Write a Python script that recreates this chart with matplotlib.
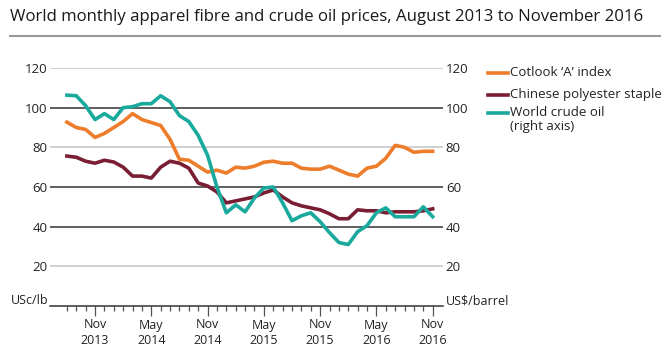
#Imports
import matplotlib
matplotlib.use('Agg')
import matplotlib.pyplot as plt
from matplotlib.ticker import FixedLocator

# Months from Aug 2013 (0) to Nov 2016 (39)
months = list(range(40))
tick_pos = [3, 9, 15, 21, 27, 33, 39]
tick_labels = ['Nov\n2013', 'May\n2014', 'Nov\n2014', 'May\n2015', 'Nov\n2015', 'May\n2016', 'Nov\n2016']

# Cotlook 'A' index, US cents per lb
cotlook = [92.7, 90, 89, 85, 87, 90, 93, 97, 94, 92.5,
           91, 84, 74, 73.5, 70.5, 67.5, 68.5, 67, 70, 69.5,
           70.5, 72.5, 73, 72, 72, 69.5, 69, 69, 70.5, 68.5,
           66.5, 65.5, 69.5, 70.5, 74.5, 81, 80, 77.5, 78, 78]

# Chinese polyester staple, US cents per lb
polyester = [75.6, 75, 73, 72, 73.5, 72.6, 70, 65.5, 65.5, 64.5,
             70, 73, 72, 69.5, 62, 60.5, 57.5, 52, 53, 54,
             55, 57, 58.5, 55, 52, 50.5, 49.5, 48.5, 46.5, 44,
             44, 48.5, 48, 48, 47, 47.5, 47.5, 47.5, 48, 49]

# World crude oil, US$ per barrel (right axis)
crude_oil = [106.3, 106, 101, 94, 97, 94, 100, 100.5, 102, 102,
             106, 103, 96, 93, 86, 76, 60, 47, 51, 47.5,
             54.5, 59.5, 60, 52, 43, 45.5, 47, 42.5, 37, 32,
             31, 37.5, 40.5, 47, 49.5, 45, 45, 45, 50, 45]

orange = '#ED7D2B'
maroon = '#7A1E33'
teal = '#19A99D'
dark = '#333333'
light = '#C4C4C4'

plt.rcParams['font.family'] = ['Open Sans', 'DejaVu Sans']

W, H = 668, 354
fig = plt.figure(figsize=(W / 100, H / 100), dpi=100)

# Title and rule below it
fig.text(10 / W, 1 - 17 / H, 'World monthly apparel fibre and crude oil prices, August 2013 to November 2016',
         fontsize=12.1, color='#1a1a1a', va='center', ha='left')
fig.add_artist(plt.Line2D([10 / W, 660 / W], [1 - 36 / H, 1 - 36 / H], color='#999999', lw=1.5))

# Plot area
left, right, top, bottom = 50, 443, 68, 306
ax = fig.add_axes([left / W, 1 - bottom / H, (right - left) / W, (bottom - top) / H])
ax.set_xlim(-1.8, 40.1)
ax.set_ylim(0, 120)

# Gridlines with alternating shades
grid_colours = {20: light, 40: dark, 60: dark, 80: light, 100: dark, 120: light}
for val, col in grid_colours.items():
    ax.axhline(val, color=col, lw=1.1, zorder=1)

for s in ['top', 'left', 'right']:
    ax.spines[s].set_visible(False)
ax.spines['bottom'].set_color(dark)
ax.spines['bottom'].set_linewidth(1.1)

ax.plot(months, cotlook, color=orange, lw=2.6, zorder=3, solid_joinstyle='round')
ax.plot(months, polyester, color=maroon, lw=2.6, zorder=3, solid_joinstyle='round')

ax2 = ax.twinx()
ax2.set_ylim(0, 120)
for s in ['top', 'left', 'right', 'bottom']:
    ax2.spines[s].set_visible(False)
ax2.plot(months, crude_oil, color=teal, lw=2.6, zorder=4, solid_joinstyle='round')

# Y ticks on both sides
yt = [20, 40, 60, 80, 100, 120]
ax.set_yticks(yt)
ax.tick_params(axis='y', length=0, pad=2, labelsize=9.5, labelcolor='#222222')
ax2.set_yticks(yt)
ax2.tick_params(axis='y', length=0, pad=2, labelsize=9.5, labelcolor='#222222')

# X ticks
ax.xaxis.set_major_locator(FixedLocator(tick_pos))
ax.set_xticklabels(tick_labels)
ax.xaxis.set_minor_locator(FixedLocator(months))
ax.tick_params(axis='x', which='major', length=7, width=0.9, color='#555555',
               labelsize=9, labelcolor='#222222', pad=2)
ax.tick_params(axis='x', which='minor', length=3.5, width=0.9, color='#555555')
for lbl in ax.get_xticklabels():
    lbl.set_linespacing(1.2)

# Axis unit labels
fig.text(48 / W, 1 - 301 / H, 'USc/lb', fontsize=9, color='#222222', ha='right', va='center')
fig.text(446 / W, 1 - 301 / H, 'US$/barrel', fontsize=9, color='#222222', ha='left', va='center')

# Legend drawn by hand
legend_items = [('Cotlook \u2018A\u2019 index', orange, 73),
                ('Chinese polyester staple', maroon, 95),
                ('World crude oil\n(right axis)', teal, 113)]
for text, col, y in legend_items:
    fig.add_artist(plt.Line2D([488 / W, 508 / W], [1 - y / H, 1 - y / H], color=col, lw=2.6))
    fig.text(510 / W, 1 - (y - 7) / H, text, fontsize=9.5, color='#222222',
             ha='left', va='top', linespacing=1.1)

fig.savefig('out.png', dpi=100)
